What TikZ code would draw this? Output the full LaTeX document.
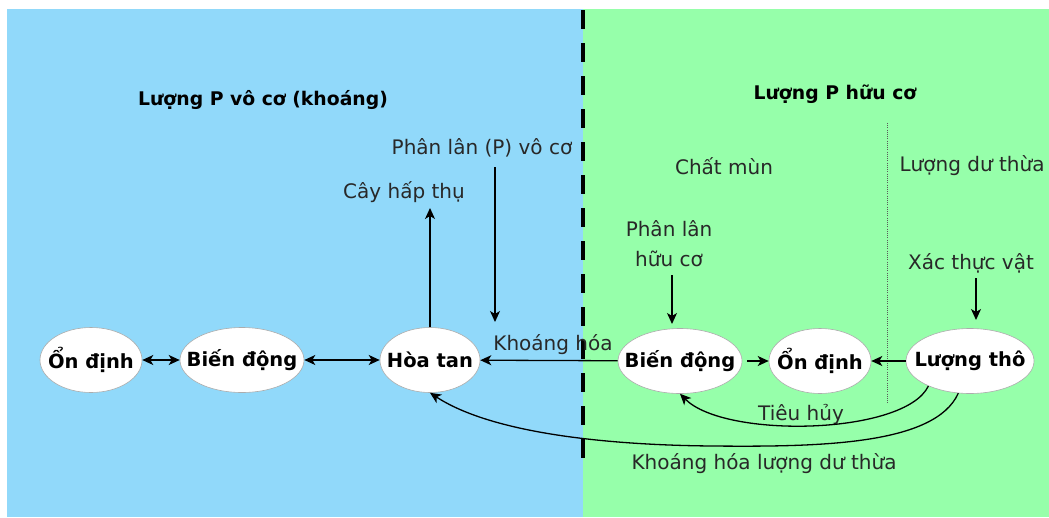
\documentclass[tikz,border=0pt]{standalone}
\usepackage{fontspec}
\setmainfont{DejaVu Sans}
\usetikzlibrary{arrows.meta,shapes.geometric}

\definecolor{mineralblue}{RGB}{145,217,250}
\definecolor{organicgreen}{RGB}{150,255,170}
\definecolor{inktext}{RGB}{40,40,40}

\tikzset{
  pool/.style={ellipse, draw=gray!65, line width=0.6pt, fill=white, inner sep=0pt,
    minimum height=65pt, font=\bfseries\fontsize{19.5}{21}\selectfont},
  lbl/.style={inner sep=0pt, text=inktext, font=\fontsize{20}{30}\selectfont},
  ttl/.style={inner sep=0pt, font=\bfseries\fontsize{18.8}{20}\selectfont},
  flow/.style={-{Stealth[length=11pt,width=10pt,inset=3pt]}, line width=1.3pt},
  twoway/.style={{Stealth[length=11pt,width=10pt,inset=3pt]}-{Stealth[length=11pt,width=10pt,inset=3pt]}, line width=1.3pt},
  border/.style={line width=4pt, dash pattern=on 19pt off 14pt},
  split/.style={gray!70!black, line width=0.8pt, dash pattern=on 1pt off 1.2pt},
}

\begin{document}
\begin{tikzpicture}[x=1pt,y=-1pt]
\useasboundingbox (0,0) rectangle (1049,517);

% two soil compartments
\fill[mineralblue] (7,9) rectangle (583,517);
\fill[organicgreen] (583,9) rectangle (1049,517);
\draw[border] (583,10) -- (583,472);
\draw[split] (887,123) -- (887,403);

% headings and labels
\node[ttl] (tin) at (263,100) {Lượng P vô cơ (khoáng)};
\node[ttl] (torg) at (835,94) {Lượng P hữu cơ};
\node[lbl] (fert) at (482,148) {Phân lân (P) vô cơ};
\node[lbl] (plant) at (404,192) {Cây hấp thụ};
\node[lbl] (humus) at (724,166) {Chất mùn};
\node[lbl] (resid) at (972,166) {Lượng dư thừa};
\node[lbl, align=center] (manure) at (669,244) {Phân lân\\hữu cơ};
\node[lbl] (litter) at (971,263) {Xác thực vật};
\node[lbl] (miner) at (553,345) {Khoáng hóa};
\node[lbl] (decay) at (801,414) {Tiêu hủy};
\node[lbl] (minres) at (764,464) {Khoáng hóa lượng dư thừa};

% pools
\node[pool, minimum width=102pt] (ond1) at (91,360) {\makebox[0pt]{Ổn định}};
\node[pool, minimum width=124pt] (bd1) at (242,360) {\makebox[0pt]{Biến động}};
\node[pool, minimum width=100pt] (ht) at (430,360) {\makebox[0pt]{Hòa tan}};
\node[pool, minimum width=124pt] (bd2) at (680,361) {\makebox[0pt]{Biến động}};
\node[pool, minimum width=102pt] (ond2) at (820,361) {\makebox[0pt]{Ổn định}};
\node[pool, minimum width=128pt] (lt) at (970,361) {\makebox[0pt]{Lượng thô}};

% free ends of the input and uptake arrows
\coordinate (uptake) at (430,208);
\coordinate (fertA) at (495,167);
\coordinate (fertB) at (495,322);
\coordinate (manA) at (672,275);
\coordinate (manB) at (672,324);
\coordinate (litA) at (976,278);
\coordinate (litB) at (976,320);

% flows
\draw[twoway] (ond1) -- (bd1);
\draw[twoway] (bd1) -- (ht);
\draw[flow] (bd2) -- (ht);
\draw[flow, shorten <=5pt] (bd2) -- (ond2);
\draw[flow] (lt) -- (ond2);
\draw[flow] (ht.north) -- (uptake);
\draw[flow] (fertA) -- (fertB);
\draw[flow] (manA) -- (manB);
\draw[flow] (litA) -- (litB);
\draw[flow] (lt.-149) .. controls (905,435) and (725,439) .. (bd2.south);
\draw[flow] (lt.-110) .. controls (935,445) and (820,447) .. (712,446)
  .. controls (600,445) and (490,432) .. (ht.south);
\end{tikzpicture}
\end{document}
